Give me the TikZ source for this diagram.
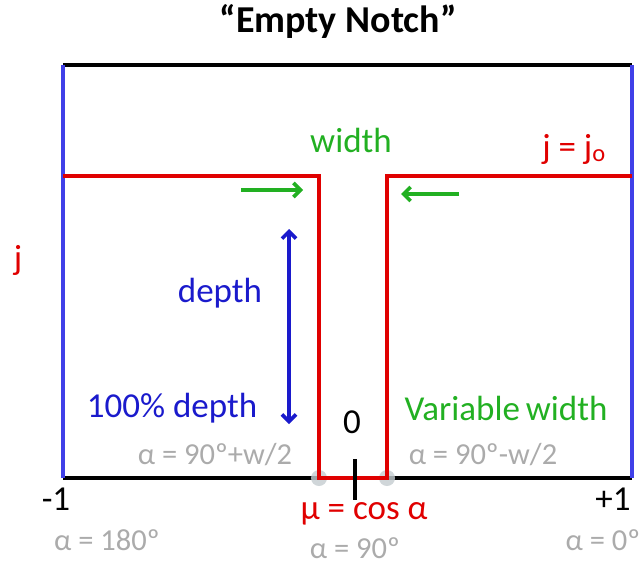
\documentclass[tikz,border=0pt]{standalone}
\usepackage{fontspec}
\setmainfont{Carlito}
\usetikzlibrary{positioning, arrows.meta}
\definecolor{NotchRed}{HTML}{E00000}
\definecolor{EdgeBlue}{HTML}{4040E8}
\definecolor{DepthBlue}{HTML}{1A1ACC}
\definecolor{WidthGreen}{HTML}{22B022}
\definecolor{AngleGray}{HTML}{ABABAB}
\definecolor{DotGray}{HTML}{C4CCD0}

\begin{document}
\begin{tikzpicture}[
    x=1pt, y=-1pt,
    lbl/.style={inner sep=0pt, font=\fontsize{35}{38}\selectfont},
    anglbl/.style={inner sep=0pt, text=AngleGray, font=\fontsize{30.5}{34}\selectfont},
    edge/.style={line width=4pt},
    notch/.style={line width=4pt, color=NotchRed},
    garr/.style={-{Straight Barb[length=7pt, width=14pt]}, line width=3.6pt, color=WidthGreen},
    darr/.style={{Straight Barb[length=7pt, width=14pt]}-{Straight Barb[length=7pt, width=14pt]}, line width=3.6pt, color=DepthBlue}
]
\useasboundingbox (0,0) rectangle (644,565);

% Title
\node[inner sep=0pt, font=\fontsize{38}{42}\selectfont\bfseries] (title) at (338,21) {“Empty Notch”};

% Frame
\draw[edge, black] (63,65) -- (632,65);
\draw[edge, black] (63,478) -- (632,478);
\draw[edge, EdgeBlue] (63,65) -- (63,478);
\draw[edge, EdgeBlue] (632,65) -- (632,478);

% Notch outline
\fill[DotGray, opacity=0.8] (319,478) circle (8);
\fill[DotGray, opacity=0.8] (387,478) circle (8);
\draw[notch, line join=miter] (63,176) -- (319,176) -- (319,478) -- (387,478) -- (387,176) -- (632,176);
\draw[edge, black] (355,459) -- (355,500);

% Width arrows
\coordinate (wl1) at (241,190);
\coordinate (wl2) at (303,190);
\coordinate (wr1) at (459,194);
\coordinate (wr2) at (401,194);
\draw[garr] (wl1) -- (wl2);
\draw[garr] (wr1) -- (wr2);

% Depth arrow
\coordinate (dtop) at (289,229);
\coordinate (dbot) at (289,424);
\draw[darr] (dtop) -- (dbot);

% Labels
\node[lbl, text=WidthGreen] (width) at (351,140) {width};
\node[lbl, text=NotchRed] (jo) at (574,149) {j = j\textsubscript{o}};
\node[lbl, text=NotchRed] (j) at (18,260) {j};
\node[lbl, text=DepthBlue] (depth) at (220,293) {depth};
\node[lbl, text=DepthBlue] (full) at (172,408) {100\% depth};
\node[lbl, text=WidthGreen] (varw) at (506,408) {Variable\,width};
\node[lbl] (zero) at (352,422) {0};
\node[lbl] (minus) at (56,499) {-1};
\node[lbl] (plus) at (613,499) {+1};
\node[lbl, text=NotchRed] (mu) at (364,514) {μ = cos α};

% Angle labels
\node[anglbl] (aleft) at (215,455) {α = 90º+w/2};
\node[anglbl] (aright) at (483,455) {α = 90º-w/2};
\node[anglbl] (a180) at (107,540) {α = 180º};
\node[anglbl] (a90) at (355,548) {α = 90º};
\node[anglbl] (a0) at (603,540) {α = 0º};

\end{tikzpicture}
\end{document}
